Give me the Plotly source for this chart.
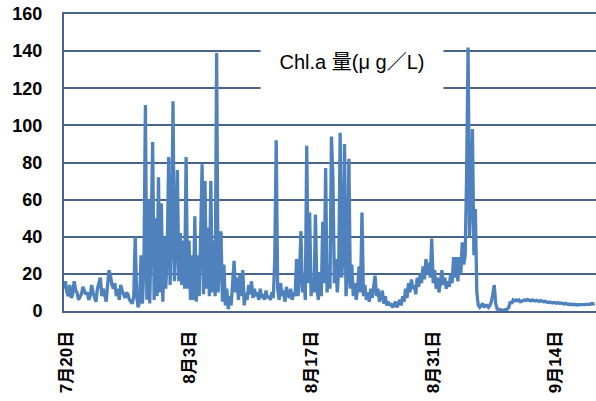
import pandas as pd
import plotly.graph_objects as go

# Chl.a concentration (µg/L), one reading every 4 hours from 2013-07-19 16:00
week1 = [12, 16, 10, 8, 14, 7, 9, 16, 11, 10, 6, 8, 9, 13, 11, 9, 10, 6, 8, 14,
         10, 8, 5, 12, 15, 18, 8, 12, 9, 5, 14, 22, 19, 14, 12, 15, 8, 12, 6, 14,
         11, 9]
week2 = [7, 10, 9, 6, 5, 4, 8, 40, 8, 2, 5, 30, 4, 25, 111, 6, 60, 4, 45, 91,
         6, 50, 8, 72, 10, 58, 5, 40, 12, 30, 83, 14, 40, 113, 16, 35, 76, 16, 42, 14,
         38, 12]
week3 = [83, 12, 38, 6, 30, 6, 51, 5, 30, 8, 40, 79, 9, 70, 12, 45, 8, 70, 10, 38,
         8, 139, 10, 30, 43, 5, 25, 3, 12, 1, 8, 3, 15, 27, 10, 18, 6, 20, 8, 22,
         3, 10]
week4 = [6, 14, 9, 16, 7, 12, 8, 10, 6, 12, 7, 9, 6, 11, 7, 8, 6, 10, 7, 28,
         92, 12, 6, 15, 8, 11, 5, 13, 9, 7, 12, 6, 10, 8, 28, 8, 20, 43, 10, 20,
         6, 89]
week5 = [15, 53, 8, 18, 10, 52, 12, 6, 21, 8, 48, 15, 77, 10, 25, 12, 94, 72, 15, 28,
         10, 22, 96, 18, 30, 90, 8, 20, 82, 12, 25, 8, 15, 6, 12, 24, 10, 53, 8, 14,
         6, 10]
week6 = [5, 12, 7, 15, 19, 8, 12, 5, 9, 11, 4, 8, 3, 5, 3, 4, 2, 3, 5, 2,
         4, 6, 3, 8, 5, 12, 7, 15, 10, 17, 12, 14, 9, 18, 13, 20, 15, 24, 17, 28,
         20, 26]
week7 = [18, 39, 15, 22, 12, 18, 10, 16, 22, 14, 18, 12, 16, 13, 20, 15, 29, 18, 29, 16,
         29, 20, 37, 25, 30, 74, 142, 40, 62, 98, 30, 55, 10, 3, 2, 3, 4, 2, 3, 3,
         2, 3]
week8 = [5, 9, 14, 4, 1, 1, 0.5, 0.5, 0.3, 0.5, 0.5, 1, 2, 5, 4, 6, 5.5, 6, 5.5, 6,
         5, 5.5, 5.8, 6, 5.6, 6.2, 5.8, 5.5, 6, 5.7, 5.4, 5.8, 5.5, 5.2, 5.6, 5.3, 5, 5.2, 4.8, 4.6,
         4.9, 4.5]
week9 = [4.3, 4.6, 4.4, 4.2, 4.5, 4.1, 4.3, 4, 3.8, 4.1, 3.7, 3.5, 3.8, 3.4, 3.6, 3.3, 3.5, 3.2, 3.4, 3.3,
         3.5, 3.2, 3.4, 3.6, 3.5, 3.8, 3.6, 4, 3.8, 4.1]

chl = week1 + week2 + week3 + week4 + week5 + week6 + week7 + week8 + week9
times = pd.date_range("2013-07-19 16:00", periods=len(chl), freq="4h")

tick_dates = ["2013-07-20", "2013-08-03", "2013-08-17", "2013-08-31", "2013-09-14"]
tick_labels = ["7月20日", "8月3日", "8月17日", "8月31日", "9月14日"]
y_ticks = [0, 20, 40, 60, 80, 100, 120, 140, 160]

grid_color = "#46648c"
font_family = "Liberation Sans, Noto Sans CJK JP, sans-serif"

fig = go.Figure()
fig.add_trace(go.Scatter(
    x=times, y=chl, mode="lines",
    line=dict(color="#4f81bd", width=3.3),
    hoverinfo="skip", showlegend=False,
))

# title label in a white box laid over the grid
fig.add_annotation(text="Chl.a 量(μ g／L)", xref="paper", yref="paper",
                   x=0.542, y=0.838, showarrow=False,
                   xanchor="center", yanchor="middle",
                   width=182, height=54, borderpad=0, bgcolor="white",
                   font=dict(family=font_family, size=20, color="#000000"))

fig.update_xaxes(
    range=[times[0], pd.Timestamp("2013-09-18 16:00")],
    tickmode="array", tickvals=tick_dates, ticktext=tick_labels,
    tickangle=-90, ticklabelstandoff=11, automargin=False,
    tickfont=dict(family=font_family, size=17, color="#000000", weight="bold"),
    showgrid=False, showline=True, mirror=True, linecolor=grid_color, linewidth=2,
    ticks="", zeroline=False,
)
fig.update_yaxes(
    range=[0, 160], tickmode="array", tickvals=y_ticks, automargin=False,
    tickfont=dict(family=font_family, size=18, color="#000000", weight="bold"),
    ticklabelstandoff=16,
    showgrid=True, gridcolor=grid_color, gridwidth=1.6,
    showline=True, linecolor=grid_color, linewidth=2,
    ticks="", zeroline=False,
)
fig.update_layout(
    width=596, height=401,
    margin=dict(l=64, r=0, t=14, b=90),
    plot_bgcolor="white", paper_bgcolor="white",
)

fig.write_html("out.html")
